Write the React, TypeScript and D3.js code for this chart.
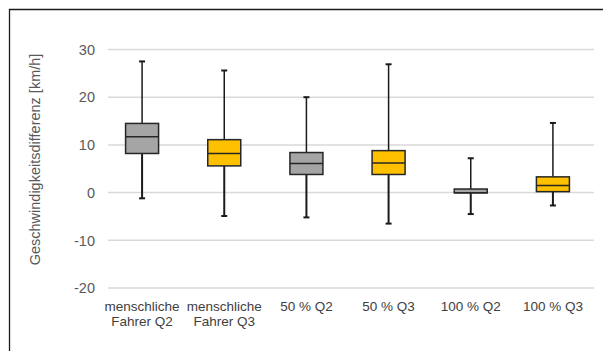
import React from "react";
import * as d3 from "d3";

const categories = [
  ["menschliche", "Fahrer Q2"],
  ["menschliche", "Fahrer Q3"],
  ["50 % Q2"],
  ["50 % Q3"],
  ["100 % Q2"],
  ["100 % Q3"],
];
const whiskerLow = [-1.2, -4.9, -5.2, -6.5, -4.5, -2.7];
const q1 = [8.2, 5.6, 3.8, 3.8, -0.05, 0.2];
const median = [11.7, 8.2, 6.1, 6.2, -0.05, 1.5];
const q3 = [14.5, 11.1, 8.4, 8.8, 0.75, 3.3];
const whiskerHigh = [27.5, 25.6, 20.0, 26.9, 7.2, 14.6];
const fills = ["#a5a5a5", "#ffc000", "#a5a5a5", "#ffc000", "#a5a5a5", "#ffc000"];
const yTicks = [-20, -10, 0, 10, 20, 30];
const yTitle = "Geschwindigkeitsdifferenz [km/h]";

export default function App() {
  const W = 603, H = 351;
  const keys = categories.map((_, i) => String(i));
  const x = d3.scaleBand<string>().domain(keys).range([101, 594]).padding(0);
  const y = d3.scaleLinear().domain([-20, 30]).range([288, 49.5]);
  const boxW = 33;
  const capW = 6;
  const font = "'Liberation Sans', Arial, sans-serif";
  return (
    <svg width={W} height={H} style={{ position: "absolute", left: 0, top: 0, overflow: "hidden" }}>
      <rect x={0} y={0} width={W} height={H} fill="#fff" />
      <path d={`M9.5,${H + 5}V9.5H${W + 5}`} fill="none" stroke="#1a1a1a" strokeWidth={1.3} />
      {yTicks.map((t) => (
        <g key={t}>
          <line x1={108} x2={594} y1={y(t)} y2={y(t)} stroke="#d9d9d9" strokeWidth={1.5} />
          <text x={95} y={y(t)} dy="0.36em" textAnchor="end" fontFamily={font} fontSize={14.5} fill="#595959">
            {t}
          </text>
        </g>
      ))}
      <text
        transform={`translate(40,${159.5}) rotate(-90)`}
        textAnchor="middle"
        fontFamily={font}
        fontSize={14.5}
        fill="#595959"
      >
        {yTitle}
      </text>
      {keys.map((k, i) => {
        const cx = (x(k) as number) + x.bandwidth() / 2;
        return (
          <g key={k}>
            <line x1={cx} x2={cx} y1={y(whiskerHigh[i])} y2={y(q3[i])} stroke="#1a1a1a" strokeWidth={1.5} />
            <line x1={cx} x2={cx} y1={y(q1[i])} y2={y(whiskerLow[i])} stroke="#1a1a1a" strokeWidth={2} />
            <line x1={cx - capW / 2} x2={cx + capW / 2} y1={y(whiskerHigh[i])} y2={y(whiskerHigh[i])} stroke="#1a1a1a" strokeWidth={2} />
            <line x1={cx - capW / 2} x2={cx + capW / 2} y1={y(whiskerLow[i])} y2={y(whiskerLow[i])} stroke="#1a1a1a" strokeWidth={2} />
            <rect
              x={cx - boxW / 2}
              y={y(q3[i])}
              width={boxW}
              height={y(q1[i]) - y(q3[i])}
              fill={fills[i]}
              stroke="#262626"
              strokeWidth={1.5}
            />
            <line x1={cx - boxW / 2} x2={cx + boxW / 2} y1={y(median[i])} y2={y(median[i])} stroke="#262626" strokeWidth={1.5} />
            {categories[i].map((line, j) => (
              <text key={j} x={cx} y={311 + j * 15} textAnchor="middle" fontFamily={font} fontSize={13.5} fill="#404040">
                {line}
              </text>
            ))}
          </g>
        );
      })}
    </svg>
  );
}
